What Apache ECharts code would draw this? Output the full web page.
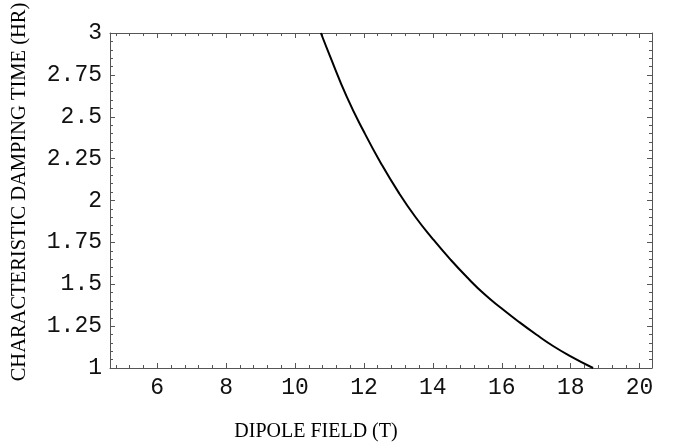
<!DOCTYPE html>
<html>
<head>
<meta charset="utf-8">
<script src="https://cdn.jsdelivr.net/npm/echarts@6/dist/echarts.min.js"></script>
<style>
  html, body { margin: 0; padding: 0; background: #fff; }
</style>
</head>
<body>
<div id="chart" style="width: 678px; height: 448px"></div>
<script>
// dipole field (T) and damping time (hr)
const fieldT = [10.75, 11, 11.5, 12, 12.5, 13, 13.5, 14, 14.5, 15, 15.5, 16, 16.5, 17, 17.5, 18, 18.65];
const dampingHr = [3.0, 2.87, 2.62, 2.41, 2.22, 2.05, 1.90, 1.77, 1.65, 1.54, 1.44, 1.355, 1.275, 1.20, 1.13, 1.07, 1.0];

// tick labels
const xTicks = [6, 8, 10, 12, 14, 16, 18, 20];
const yTicks = [1, 1.25, 1.5, 1.75, 2, 2.25, 2.5, 2.75, 3];

const xMin = 4.63, xMax = 20.36;

// minor ticks on x every 0.4
const xMinor = [];
for (let v = 4.8; v < xMax; v += 0.4) {
    xMinor.push(Math.round(v * 10) / 10);
}

const frameColor = '#555';
const tickFont = 'Liberation Mono';

function xAxisOf(position, ticks, len, withLine, withLabel) {
    return {
        type: 'value',
        position: position,
        min: xMin,
        max: xMax,
        axisLine: { show: withLine, onZero: false, lineStyle: { color: frameColor, width: 1 } },
        axisTick: {
            show: true, inside: true, length: len,
            customValues: ticks,
            lineStyle: { color: frameColor, width: 1 }
        },
        axisLabel: {
            show: withLabel,
            customValues: xTicks,
            color: '#111',
            fontFamily: tickFont,
            fontSize: 23,
            margin: 8
        },
        splitLine: { show: false }
    };
}

function yAxisOf(position, withLabel) {
    return {
        type: 'value',
        position: position,
        min: yTicks[0],
        max: yTicks[yTicks.length - 1],
        interval: 0.25,
        axisLine: { show: true, onZero: false, lineStyle: { color: frameColor, width: 1 } },
        axisTick: { show: true, inside: true, length: 5, lineStyle: { color: frameColor } },
        minorTick: { show: true, splitNumber: 5, length: 3, lineStyle: { color: frameColor } },
        axisLabel: {
            show: withLabel,
            color: '#111',
            fontFamily: tickFont,
            fontSize: 23,
            margin: 8
        },
        splitLine: { show: false },
        minorSplitLine: { show: false }
    };
}

const chart = echarts.init(document.getElementById('chart'));

const option = {
    animation: false,
    grid: { left: 110, right: 26, top: 33, bottom: 80 },
    xAxis: [
        xAxisOf('bottom', xTicks, 5, true, true),
        xAxisOf('bottom', xMinor, 3, false, false),
        xAxisOf('top', xTicks, 5, true, false),
        xAxisOf('top', xMinor, 3, false, false)
    ],
    yAxis: [
        yAxisOf('left', true),
        yAxisOf('right', false)
    ],
    graphic: [
        {
            type: 'text',
            x: 316, y: 432,
            style: {
                text: 'DIPOLE FIELD (T)',
                font: '20px "Liberation Serif"',
                fill: '#000',
                textAlign: 'center',
                textVerticalAlign: 'middle'
            }
        },
        {
            type: 'text',
            x: 20, y: 192,
            rotation: Math.PI / 2,
            style: {
                text: 'CHARACTERISTIC DAMPING TIME (HR)',
                font: '20.5px "Liberation Serif"',
                fill: '#000',
                textAlign: 'center',
                textVerticalAlign: 'middle'
            }
        }
    ],
    series: [
        {
            type: 'line',
            xAxisIndex: 0,
            yAxisIndex: 0,
            data: fieldT.map((b, i) => [b, dampingHr[i]]),
            smooth: 0.5,
            showSymbol: false,
            clip: true,
            lineStyle: { color: '#000', width: 2 }
        }
    ]
};

chart.setOption(option);
</script>
</body>
</html>
